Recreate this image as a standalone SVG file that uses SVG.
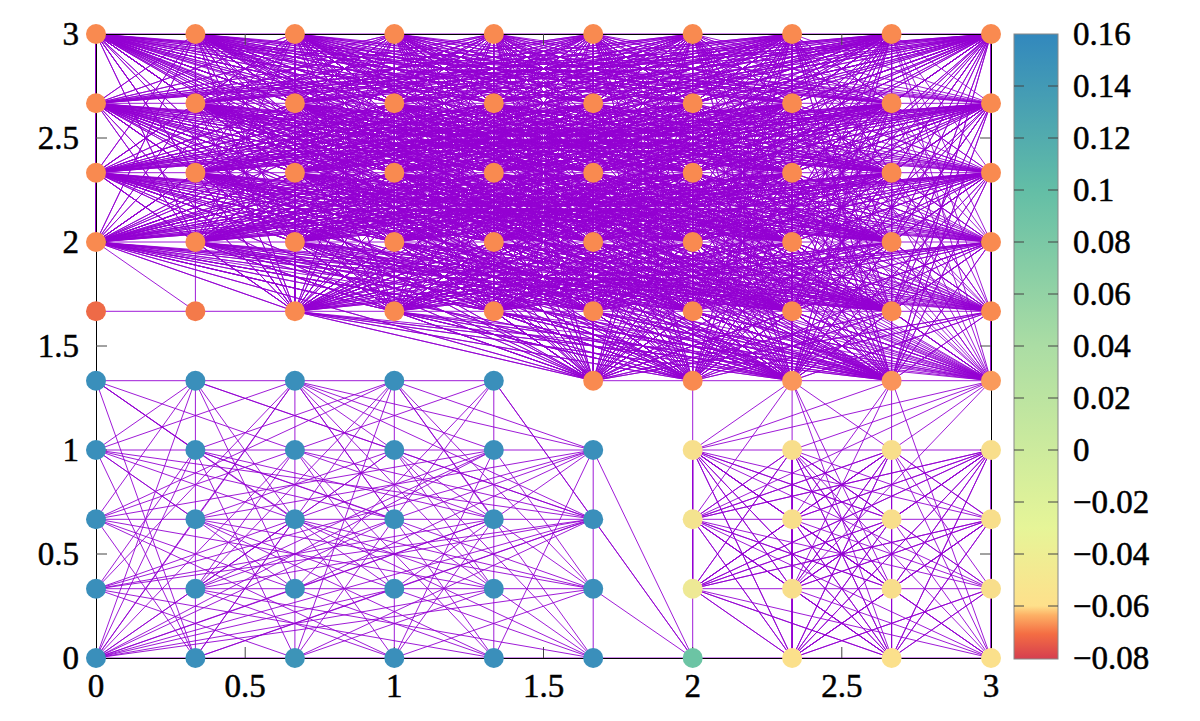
<svg xmlns="http://www.w3.org/2000/svg" xmlns:xlink="http://www.w3.org/1999/xlink" width="1200" height="721" viewBox="0 0 1200 721">
<style>
.e{fill:none;stroke:#9400d3;stroke-width:0.9;stroke-linejoin:round;stroke-linecap:round;vector-effect:non-scaling-stroke}
.o{fill:#f98a50}.b{fill:#3a8fbb}.y{fill:#f8de8b}
.t{font-family:"Liberation Serif",serif;font-size:33px;fill:#000;stroke:#000;stroke-width:0.5}
.tk{stroke:#444;stroke-width:1;fill:none}
</style>
<defs>
<linearGradient id="cb" x1="0" y1="0" x2="0" y2="1">
<stop offset="0" stop-color="#3288bd"/>
<stop offset="0.25" stop-color="#63bea6"/>
<stop offset="0.5" stop-color="#abdda4"/>
<stop offset="0.79" stop-color="#e6f598"/>
<stop offset="0.915" stop-color="#fee08b"/>
<stop offset="0.93" stop-color="#fdb065"/>
<stop offset="0.96" stop-color="#f46d43"/>
<stop offset="1" stop-color="#d53e4f"/>
</linearGradient>
<path id="kb" class="e" d="M0 0 0 1 0 0 1 1 0 0 2 1 0 0 3 1 0 0 4 1 0 0 5 1 0 0 6 1 0 0 7 1 0 0 8 1 0 0 9 1M1 0 0 1 1 0 1 1 1 0 2 1 1 0 3 1 1 0 4 1 1 0 5 1 1 0 6 1 1 0 7 1 1 0 8 1 1 0 9 1M2 0 0 1 2 0 1 1 2 0 2 1 2 0 3 1 2 0 4 1 2 0 5 1 2 0 6 1 2 0 7 1 2 0 8 1 2 0 9 1M3 0 0 1 3 0 1 1 3 0 2 1 3 0 3 1 3 0 4 1 3 0 5 1 3 0 6 1 3 0 7 1 3 0 8 1 3 0 9 1M4 0 0 1 4 0 1 1 4 0 2 1 4 0 3 1 4 0 4 1 4 0 5 1 4 0 6 1 4 0 7 1 4 0 8 1 4 0 9 1M5 0 0 1 5 0 1 1 5 0 2 1 5 0 3 1 5 0 4 1 5 0 5 1 5 0 6 1 5 0 7 1 5 0 8 1 5 0 9 1M6 0 0 1 6 0 1 1 6 0 2 1 6 0 3 1 6 0 4 1 6 0 5 1 6 0 6 1 6 0 7 1 6 0 8 1 6 0 9 1M7 0 0 1 7 0 1 1 7 0 2 1 7 0 3 1 7 0 4 1 7 0 5 1 7 0 6 1 7 0 7 1 7 0 8 1 7 0 9 1M8 0 0 1 8 0 1 1 8 0 2 1 8 0 3 1 8 0 4 1 8 0 5 1 8 0 6 1 8 0 7 1 8 0 8 1 8 0 9 1M9 0 0 1 9 0 1 1 9 0 2 1 9 0 3 1 9 0 4 1 9 0 5 1 9 0 6 1 9 0 7 1 9 0 8 1 9 0 9 1"/>
<path id="kp2" class="e" d="M0 0 2 1 0 0 3 1 0 0 4 1 0 0 5 1 0 0 6 1 0 0 7 1 0 0 8 1 0 0 9 1M1 0 2 1 1 0 3 1 1 0 4 1 1 0 5 1 1 0 6 1 1 0 7 1 1 0 8 1 1 0 9 1M2 0 2 1 2 0 3 1 2 0 4 1 2 0 5 1 2 0 6 1 2 0 7 1 2 0 8 1 2 0 9 1M3 0 2 1 3 0 3 1 3 0 4 1 3 0 5 1 3 0 6 1 3 0 7 1 3 0 8 1 3 0 9 1M4 0 2 1 4 0 3 1 4 0 4 1 4 0 5 1 4 0 6 1 4 0 7 1 4 0 8 1 4 0 9 1M5 0 2 1 5 0 3 1 5 0 4 1 5 0 5 1 5 0 6 1 5 0 7 1 5 0 8 1 5 0 9 1M6 0 2 1 6 0 3 1 6 0 4 1 6 0 5 1 6 0 6 1 6 0 7 1 6 0 8 1 6 0 9 1M7 0 2 1 7 0 3 1 7 0 4 1 7 0 5 1 7 0 6 1 7 0 7 1 7 0 8 1 7 0 9 1M8 0 2 1 8 0 3 1 8 0 4 1 8 0 5 1 8 0 6 1 8 0 7 1 8 0 8 1 8 0 9 1M9 0 2 1 9 0 3 1 9 0 4 1 9 0 5 1 9 0 6 1 9 0 7 1 9 0 8 1 9 0 9 1"/>
<path id="kp5" class="e" d="M0 0 5 1 0 0 6 1 0 0 7 1 0 0 8 1 0 0 9 1M1 0 5 1 1 0 6 1 1 0 7 1 1 0 8 1 1 0 9 1M2 0 5 1 2 0 6 1 2 0 7 1 2 0 8 1 2 0 9 1M3 0 5 1 3 0 6 1 3 0 7 1 3 0 8 1 3 0 9 1M4 0 5 1 4 0 6 1 4 0 7 1 4 0 8 1 4 0 9 1M5 0 5 1 5 0 6 1 5 0 7 1 5 0 8 1 5 0 9 1M6 0 5 1 6 0 6 1 6 0 7 1 6 0 8 1 6 0 9 1M7 0 5 1 7 0 6 1 7 0 7 1 7 0 8 1 7 0 9 1M8 0 5 1 8 0 6 1 8 0 7 1 8 0 8 1 8 0 9 1M9 0 5 1 9 0 6 1 9 0 7 1 9 0 8 1 9 0 9 1"/>
<path id="p31" class="e" d="M2 0 5 1 2 0 6 1 2 0 7 1 2 0 8 1 2 0 9 1M3 0 5 1 3 0 6 1 3 0 7 1 3 0 8 1 3 0 9 1M4 0 5 1 4 0 6 1 4 0 7 1 4 0 8 1 4 0 9 1M5 0 5 1 5 0 6 1 5 0 7 1 5 0 8 1 5 0 9 1M6 0 5 1 6 0 6 1 6 0 7 1 6 0 8 1 6 0 9 1M7 0 5 1 7 0 6 1 7 0 7 1 7 0 8 1 7 0 9 1M8 0 5 1 8 0 6 1 8 0 7 1 8 0 8 1 8 0 9 1M9 0 5 1 9 0 6 1 9 0 7 1 9 0 8 1 9 0 9 1"/>
<path id="kb4" class="e" d="M0 0 0 1 0 0 1 1 0 0 2 1 0 0 3 1M1 0 0 1 1 0 1 1 1 0 2 1 1 0 3 1M2 0 0 1 2 0 1 1 2 0 2 1 2 0 3 1M3 0 0 1 3 0 1 1 3 0 2 1 3 0 3 1"/>
<path id="kb43" class="e" d="M0 0 1 1 0 0 2 1 0 0 3 1M1 0 1 1 1 0 2 1 1 0 3 1M2 0 1 1 2 0 2 1 2 0 3 1M3 0 1 1 3 0 2 1 3 0 3 1"/>
</defs>
<rect width="1200" height="721" fill="#fff"/>
<g id="connectors">
<use xlink:href="#kb" transform="translate(96,34) scale(99.444,69.333)"/>
<use xlink:href="#kb" transform="translate(96,34) scale(99.444,138.667)"/>
<use xlink:href="#kb" transform="translate(96,34) scale(99.444,208)"/>
<use xlink:href="#kb" transform="translate(96,103.333) scale(99.444,69.333)"/>
<use xlink:href="#kb" transform="translate(96,103.333) scale(99.444,138.667)"/>
<use xlink:href="#kb" transform="translate(96,172.667) scale(99.444,69.333)"/>
<use xlink:href="#kp2" transform="translate(96,34) scale(99.444,277.333)"/>
<use xlink:href="#kp2" transform="translate(96,103.333) scale(99.444,208)"/>
<use xlink:href="#kp2" transform="translate(96,172.667) scale(99.444,138.667)"/>
<use xlink:href="#kp2" transform="translate(96,242) scale(99.444,69.333)"/>
<use xlink:href="#kp5" transform="translate(96,34) scale(99.444,346.667)"/>
<use xlink:href="#kp5" transform="translate(96,103.333) scale(99.444,277.333)"/>
<use xlink:href="#kp5" transform="translate(96,172.667) scale(99.444,208)"/>
<use xlink:href="#kp5" transform="translate(96,242) scale(99.444,138.667)"/>
<use xlink:href="#p31" transform="translate(96,311.333) scale(99.444,69.333)"/>
<use xlink:href="#kb4" transform="translate(692.667,450) scale(99.444,69.333)"/>
<use xlink:href="#kb4" transform="translate(692.667,450) scale(99.444,138.667)"/>
<use xlink:href="#kb4" transform="translate(692.667,519.333) scale(99.444,69.333)"/>
<use xlink:href="#kb43" transform="translate(692.667,450) scale(99.444,208)"/>
<use xlink:href="#kb43" transform="translate(692.667,519.333) scale(99.444,138.667)"/>
<use xlink:href="#kb43" transform="translate(692.667,588.667) scale(99.444,69.333)"/>
<path class="e" d="M96 34H991M96 103.3H991M96 172.7H991M96 242H991M96 311.3H991M96 380.7H494M593 380.7H991M96 450H593M692.7 450H991M96 519.3H593M692.7 519.3H991M96 588.7H593M692.7 588.7H991M96 658H991
M195.4 242V311.3M96 242L195.4 311.3
M195.4 380.7V658M294.9 380.7V658M394.3 380.7V658M493.8 380.7V658M593.2 450V658M692.7 380.7V658M792.1 380.7V450M891.6 380.7V450
M792 381L693 450M792 381L693 519M792 381L892 589M792 381L892 658M792 381L991 519M892 381L693 450M892 381L792 519M892 381L792 589M892 381L991 658M991 381L693 450M991 381L693 519M991 381L792 450M991 381L892 450M991 381L792 589
M96 381L195 450M96 381L295 519M96 381L195 658M96 381L394 589M96 381L494 519
M195 381L96 450M195 381L96 519M195 381L295 589M195 381L394 658M195 381L394 450M195 381L593 519
M295 381L96 450M295 381L494 450M295 381L195 519M295 381L394 519M295 381L96 589M295 381L494 589M295 381L494 658M295 381L593 519M295 381L593 589M295 381L593 450M295 381L96 658
M394 381L195 450M394 381L96 519M394 381L494 519M394 381L195 589M394 381L295 658M394 381L593 589M394 381L593 450M394 381L593 658M394 381L195 658
M494 381L394 519M494 381L593 519M494 381L295 450M494 381L295 589M494 381L693 658
M96 450L195 519M96 450L295 589M96 450L394 519M96 450L195 658M96 450L494 589M96 450L593 519
M195 450L394 519M195 450L96 589M195 450L295 658M195 450L494 519M195 450L593 589
M295 450L96 519M295 450L195 589M295 450L494 658M295 450L593 519M295 450L394 589M295 450L96 658
M394 450L195 519M394 450L494 589M394 450L96 658M394 450L593 519M394 450L593 658M394 450L195 589
M494 450L295 519M494 450L195 589M494 450L394 658M494 450L96 519M494 450L96 658M494 450L593 589
M593 450L394 519M593 450L96 589M593 450L494 658M593 450L195 519M593 450L295 589M593 450L693 658M593 450L394 589
M96 519L295 589M96 519L195 658M96 519L494 589M96 519L394 658
M195 519L394 589M195 519L96 658M195 519L494 658M195 519L593 589
M295 519L96 589M295 519L195 658M295 519L593 589M295 519L593 658M295 519L96 658
M394 519L195 589M394 519L295 658M394 519L593 658M394 519L96 658
M494 519L295 589M494 519L96 658M494 519L394 658M494 519L96 589
M593 519L394 589M593 519L195 658M593 519L295 658M593 519L693 658M593 519L195 589
M96 589L295 658M96 589L494 658M195 589L394 658M195 589L593 658M295 589L96 658M295 589L494 658
M394 589L195 658M394 589L593 658M394 589L96 658M494 589L295 658M494 589L96 658
M593 589L394 658M593 589L693 658M593 589L96 658
M96 658L195 450M96 658L195 381M96 658L593 519M96 589L593 519"/>
</g>
<g id="axes">
<rect x="96" y="34" width="895" height="624" fill="none" stroke="#000" stroke-width="1" shape-rendering="crispEdges"/>
<path class="tk" d="M245.2 658v-11M394.3 658v-11M543.5 658v-11M692.7 658v-11M841.8 658v-11M245.2 34v11M394.3 34v11M543.5 34v11M692.7 34v11M841.8 34v11M96 554h11M96 450h11M96 346h11M96 242h11M96 138h11M991 554h-11M991 450h-11M991 346h-11M991 242h-11M991 138h-11"/>
<g class="t" text-anchor="middle">
<text x="96" y="697">0</text><text x="245.2" y="697">0.5</text><text x="394.3" y="697">1</text><text x="543.5" y="697">1.5</text><text x="692.7" y="697">2</text><text x="841.8" y="697">2.5</text><text x="991" y="697">3</text>
</g>
<g class="t" text-anchor="end">
<text x="79" y="669">0</text><text x="79" y="565">0.5</text><text x="79" y="461">1</text><text x="79" y="357">1.5</text><text x="79" y="253">2</text><text x="79" y="149">2.5</text><text x="79" y="45">3</text>
</g>
</g>
<g id="nodes">
<g id="orange">
<circle class="o" cx="96" cy="34" r="10"/><circle class="o" cx="195.4" cy="34" r="10"/><circle class="o" cx="294.9" cy="34" r="10"/><circle class="o" cx="394.3" cy="34" r="10"/><circle class="o" cx="493.8" cy="34" r="10"/><circle class="o" cx="593.2" cy="34" r="10"/><circle class="o" cx="692.7" cy="34" r="10"/><circle class="o" cx="792.1" cy="34" r="10"/><circle class="o" cx="891.6" cy="34" r="10"/><circle class="o" cx="991" cy="34" r="10"/>
<circle class="o" cx="96" cy="103.3" r="10"/><circle class="o" cx="195.4" cy="103.3" r="10"/><circle class="o" cx="294.9" cy="103.3" r="10"/><circle class="o" cx="394.3" cy="103.3" r="10"/><circle class="o" cx="493.8" cy="103.3" r="10"/><circle class="o" cx="593.2" cy="103.3" r="10"/><circle class="o" cx="692.7" cy="103.3" r="10"/><circle class="o" cx="792.1" cy="103.3" r="10"/><circle class="o" cx="891.6" cy="103.3" r="10"/><circle class="o" cx="991" cy="103.3" r="10"/>
<circle class="o" cx="96" cy="172.7" r="10"/><circle class="o" cx="195.4" cy="172.7" r="10"/><circle class="o" cx="294.9" cy="172.7" r="10"/><circle class="o" cx="394.3" cy="172.7" r="10"/><circle class="o" cx="493.8" cy="172.7" r="10"/><circle class="o" cx="593.2" cy="172.7" r="10"/><circle class="o" cx="692.7" cy="172.7" r="10"/><circle class="o" cx="792.1" cy="172.7" r="10"/><circle class="o" cx="891.6" cy="172.7" r="10"/><circle class="o" cx="991" cy="172.7" r="10"/>
<circle class="o" cx="96" cy="242" r="10"/><circle class="o" cx="195.4" cy="242" r="10"/><circle class="o" cx="294.9" cy="242" r="10"/><circle class="o" cx="394.3" cy="242" r="10"/><circle class="o" cx="493.8" cy="242" r="10"/><circle class="o" cx="593.2" cy="242" r="10"/><circle class="o" cx="692.7" cy="242" r="10"/><circle class="o" cx="792.1" cy="242" r="10"/><circle class="o" cx="891.6" cy="242" r="10"/><circle class="o" cx="991" cy="242" r="10"/>
<circle cx="96" cy="311.3" r="10" fill="#ee6a47"/><circle cx="195.4" cy="311.3" r="10" fill="#f47a4a"/><circle class="o" cx="294.9" cy="311.3" r="10"/><circle class="o" cx="394.3" cy="311.3" r="10"/><circle class="o" cx="493.8" cy="311.3" r="10"/><circle class="o" cx="593.2" cy="311.3" r="10"/><circle class="o" cx="692.7" cy="311.3" r="10"/><circle class="o" cx="792.1" cy="311.3" r="10"/><circle class="o" cx="891.6" cy="311.3" r="10"/><circle class="o" cx="991" cy="311.3" r="10"/>
<circle class="o" cx="593.2" cy="380.7" r="10"/><circle class="o" cx="692.7" cy="380.7" r="10"/><circle cx="792.1" cy="380.7" r="10" fill="#fa965a"/><circle cx="891.6" cy="380.7" r="10" fill="#fa945a"/><circle cx="991" cy="380.7" r="10" fill="#fa9a5c"/>
</g>
<g id="blue">
<circle class="b" cx="96" cy="380.7" r="10"/><circle class="b" cx="195.4" cy="380.7" r="10"/><circle class="b" cx="294.9" cy="380.7" r="10"/><circle class="b" cx="394.3" cy="380.7" r="10"/><circle class="b" cx="493.8" cy="380.7" r="10"/>
<circle class="b" cx="96" cy="450" r="10"/><circle class="b" cx="195.4" cy="450" r="10"/><circle class="b" cx="294.9" cy="450" r="10"/><circle class="b" cx="394.3" cy="450" r="10"/><circle class="b" cx="493.8" cy="450" r="10"/><circle class="b" cx="593.2" cy="450" r="10"/>
<circle class="b" cx="96" cy="519.3" r="10"/><circle class="b" cx="195.4" cy="519.3" r="10"/><circle class="b" cx="294.9" cy="519.3" r="10"/><circle class="b" cx="394.3" cy="519.3" r="10"/><circle class="b" cx="493.8" cy="519.3" r="10"/><circle class="b" cx="593.2" cy="519.3" r="10"/>
<circle class="b" cx="96" cy="588.7" r="10"/><circle class="b" cx="195.4" cy="588.7" r="10"/><circle class="b" cx="294.9" cy="588.7" r="10"/><circle class="b" cx="394.3" cy="588.7" r="10"/><circle class="b" cx="493.8" cy="588.7" r="10"/><circle class="b" cx="593.2" cy="588.7" r="10"/>
<circle class="b" cx="96" cy="658" r="10"/><circle class="b" cx="195.4" cy="658" r="10"/><circle cx="294.9" cy="658" r="10" fill="#3d94b8"/><circle class="b" cx="394.3" cy="658" r="10"/><circle class="b" cx="493.8" cy="658" r="10"/><circle class="b" cx="593.2" cy="658" r="10"/>
</g>
<g id="yellow">
<circle cx="692.7" cy="450" r="10" fill="#f7df8c"/><circle class="y" cx="792.1" cy="450" r="10"/><circle class="y" cx="891.6" cy="450" r="10"/><circle class="y" cx="991" cy="450" r="10"/>
<circle cx="692.7" cy="519.3" r="10" fill="#f4e38f"/><circle class="y" cx="792.1" cy="519.3" r="10"/><circle class="y" cx="891.6" cy="519.3" r="10"/><circle class="y" cx="991" cy="519.3" r="10"/>
<circle cx="692.7" cy="588.7" r="10" fill="#eee995"/><circle class="y" cx="792.1" cy="588.7" r="10"/><circle class="y" cx="891.6" cy="588.7" r="10"/><circle class="y" cx="991" cy="588.7" r="10"/>
<circle cx="692.7" cy="658" r="10" fill="#6cc4a4"/><circle cx="792.1" cy="658" r="10" fill="#fbe08b"/><circle cx="891.6" cy="658" r="10" fill="#fbe08b"/><circle cx="991" cy="658" r="10" fill="#fbe08b"/>
</g>
</g>
<g id="colorbar">
<rect x="1014" y="34" width="44" height="625" fill="url(#cb)" stroke="#888" stroke-width="1"/>
<path class="tk" d="M1014 86h10M1058 86h-10M1014 138h10M1058 138h-10M1014 190h10M1058 190h-10M1014 242h10M1058 242h-10M1014 294h10M1058 294h-10M1014 346h10M1058 346h-10M1014 398h10M1058 398h-10M1014 450h10M1058 450h-10M1014 502h10M1058 502h-10M1014 554h10M1058 554h-10M1014 606h10M1058 606h-10"/>
<g class="t">
<text x="1073" y="45">0.16</text><text x="1073" y="97">0.14</text><text x="1073" y="149">0.12</text><text x="1073" y="201">0.1</text><text x="1073" y="253">0.08</text><text x="1073" y="305">0.06</text><text x="1073" y="357">0.04</text><text x="1073" y="409">0.02</text><text x="1073" y="461">0</text><text x="1073" y="513">−0.02</text><text x="1073" y="565">−0.04</text><text x="1073" y="617">−0.06</text><text x="1073" y="669">−0.08</text>
</g>
</g>
</svg>
